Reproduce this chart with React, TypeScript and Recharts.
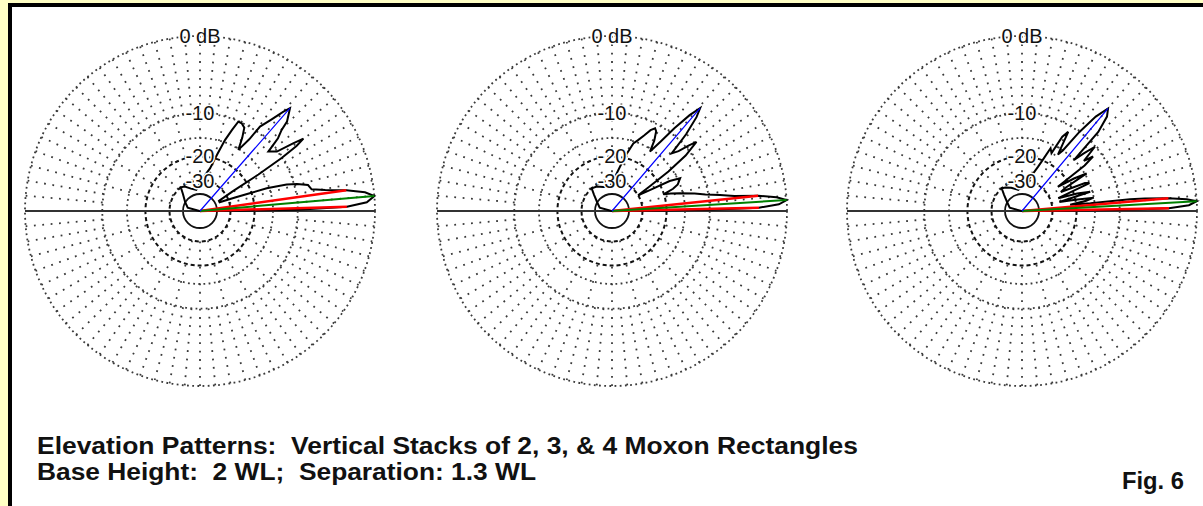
import React from "react";
import {
  RadarChart,
  Radar,
  PolarGrid,
  PolarAngleAxis,
  PolarRadiusAxis,
} from "recharts";

// Elevation patterns on an ARRL log scale (r = 0.89 ^ (-dB / 2)).
// Each plot: pattern angles (deg above horizon) and gains (dB).

// 2 Moxons
const stack2Angle = [
  0, 0.3, 0.7, 1.7, 3, 4.9, 6.5, 8.1, 9.5, 11, 13.5, 15.5, 17, 18.8, 19.5, 21, 24,
  28, 31, 32, 33, 34, 35, 36, 37.7, 41, 43, 44.8, 45.8, 48.8, 50, 52, 54.6, 55.5,
  57.9, 60, 62, 64.6, 66.8, 68.5, 70.6, 73, 76.8, 82, 90, 100, 112, 122, 129, 135,
  150, 165, 180,
];
const stack2Db = [
  -99, -25, -10, -3, -0.8, 0, -0.9, -2.9, -5.5, -7.4, -7.8, -9.5, -11.3, -15.6, -20,
  -26, -36, -36, -26, -16, -10, -7, -5.6, -7.2, -10.1, -11.3, -8.5, -7.2, -5.8, -4.25,
  -5.2, -7, -9, -12, -15.2, -12.5, -10.6, -10.1, -10.1, -12, -14.5, -18.5, -23.8, -27,
  -32, -36, -34, -31, -30, -34, -40, -45, -99,
];

// 3 Moxons
const stack3Angle = [
  0, 0.3, 0.7, 1.3, 2.3, 3.6, 4.8, 6, 7, 8.4, 10, 12, 14.6, 16.5, 18, 20, 22, 25.7,
  27.5, 29, 31, 33, 35, 37, 39.3, 40.5, 42, 44, 46, 48, 49.4, 51, 53, 55, 57.4, 59,
  61, 62.5, 64.5, 67, 70, 72.5, 76, 79.8, 85, 95, 110, 122, 131.8, 138, 150, 165, 180,
];
const stack3Db = [
  -99, -25, -10, -3, -0.8, 0, -1, -3, -6, -8.1, -10.5, -12.5, -15.7, -18, -20, -17,
  -15.5, -14.4, -17, -24, -30, -24, -16, -11, -8.1, -9.5, -11.5, -12.8, -8.5, -5.6,
  -4.4, -6, -9, -12.5, -15.6, -13, -11.2, -10.8, -11.5, -13, -14.5, -15.5, -19, -23.3,
  -28, -34, -33, -31, -30, -34, -40, -45, -99,
];

// 4 Moxons
const stack4Angle = [
  0, 0.3, 0.6, 1.1, 2, 3.2, 4.1, 5, 5.8, 6.2, 6.5, 7.5, 9, 10.5, 12, 13.5, 15.8, 17.5,
  19.5, 22.5, 24, 26, 28, 30.2, 32, 34, 36, 37.5, 39, 41.4, 43, 44.5, 46, 48, 50, 52,
  54, 56, 57.5, 59.7, 61.5, 63, 65.5, 68, 70, 75, 85, 100, 115, 125, 131.8, 138, 150,
  165, 180,
];
const stack4Db = [
  -99, -25, -10, -3, -0.8, 0, -1, -3, -6, -8.2, -16, -22, -17, -15, -20, -26, -15.5,
  -19, -26, -15, -16, -24, -22, -14.6, -18, -24, -14, -11.5, -13.5, -10.1, -12.5, -15,
  -8, -5.5, -4.6, -6.5, -10, -15, -16.5, -11.1, -12.5, -17, -16, -20, -22.5, -27, -32,
  -36, -33, -31, -30, -34, -40, -45, -99,
];

// marker lines (angles of points already in the patterns above)
const highLobeAngle = [48.8, 49.4, 50]; // blue
const maxGainAngle = [4.9, 3.6, 3.2]; // green + marker
const halfPowerLoAngle = [1.7, 1.3, 1.1]; // red
const halfPowerHiAngle = [8.1, 6, 5]; // red

// grid
const greyRingDb = [0, -10, -15];
const dashRingDb = [-20, -30];
const solidRingDb = [-40];
const labelDb = [0, -10, -20, -30];
const labelText = ["0 dB", "-10", "-20", "-30"];

const W = 1203;
const H = 506;
const R = 175;
const SIZE = 400;
const CY = 211;
const CENTERS = [200, 612, 1022];
const NO_MARGIN = { top: 0, right: 0, bottom: 0, left: 0 };
const FONT = "'Liberation Sans', Arial, Helvetica, sans-serif";
const DOT = "#3a3a3a";

const toV = (db: number) => Math.pow(0.89, -db / 2);
const rOf = (db: number) => R * toV(db);

const outerSpokes = Array.from({ length: 72 }, (_, i) => i * 5);
const innerSpokes = Array.from({ length: 24 }, (_, i) => i * 15);

function buildRows(angles: number[], dbs: number[], k: number) {
  return angles.map((a, i) => {
    const v = toV(dbs[i]);
    const at = (x: number) => (a === 0 ? 0 : a === x ? v : null);
    return {
      angle: a,
      pat: v,
      blue: at(highLobeAngle[k]),
      green: at(maxGainAngle[k]),
      redLo: at(halfPowerLoAngle[k]),
      redHi: at(halfPowerHiAngle[k]),
    };
  });
}

const plots = [
  buildRows(stack2Angle, stack2Db, 0),
  buildRows(stack3Angle, stack3Db, 1),
  buildRows(stack4Angle, stack4Db, 2),
];

const renderTick = (props: any) => {
  const { x, y, payload, index } = props;
  let i = index;
  if (payload && typeof payload.value === "number") {
    const j = labelDb.findIndex((d) => Math.abs(toV(d) - payload.value) < 1e-6);
    if (j >= 0) i = j;
  }
  return (
    <text
      key={`t-${i}`}
      x={x}
      y={y}
      textAnchor="middle"
      dominantBaseline="central"
      fontSize={20}
      fontFamily={FONT}
      fill="#111"
      stroke="#fff"
      strokeWidth={3}
      paintOrder="stroke"
    >
      {labelText[i]}
    </text>
  );
};

const renderMarker = (props: any) => {
  const { cx, cy, payload, index } = props;
  const big = payload && typeof payload.value === "number" ? payload.value > 0.5 : false;
  if (!big || !Number.isFinite(cx) || !Number.isFinite(cy)) return <g key={`m-${index}`} />;
  return (
    <rect
      key={`m-${index}`}
      x={cx - 3}
      y={cy - 3}
      width={6}
      height={6}
      fill="#ff00ff"
      stroke="#008000"
      strokeWidth={1.5}
    />
  );
};

function Plot({ cx, rows }: { cx: number; rows: any[] }) {
  const box: React.CSSProperties = {
    position: "absolute",
    left: cx - SIZE / 2,
    top: CY - SIZE / 2,
    width: SIZE,
    height: SIZE,
  };
  return (
    <>
      {/* 5 degree spokes between -10 dB and 0 dB */}
      <div style={box}>
        <RadarChart width={SIZE} height={SIZE} data={rows} margin={NO_MARGIN}
          innerRadius={rOf(-10)} outerRadius={R} startAngle={0} endAngle={360}>
          <PolarGrid gridType="circle" polarAngles={outerSpokes} polarRadius={[]}
            stroke={DOT} strokeWidth={1.8} strokeDasharray="1.8 6.6" />
        </RadarChart>
      </div>
      {/* 15 degree spokes between -30 dB and -10 dB */}
      <div style={box}>
        <RadarChart width={SIZE} height={SIZE} data={rows} margin={NO_MARGIN}
          innerRadius={rOf(-30)} outerRadius={rOf(-10)} startAngle={0} endAngle={360}>
          <PolarGrid gridType="circle" polarAngles={innerSpokes} polarRadius={[]}
            stroke={DOT} strokeWidth={1.8} strokeDasharray="1.8 6.6" />
        </RadarChart>
      </div>
      <div style={box}>
        <RadarChart width={SIZE} height={SIZE} data={rows} margin={NO_MARGIN}
          outerRadius={R} startAngle={0} endAngle={360}>
          <PolarGrid gridType="circle" polarAngles={[]} polarRadius={greyRingDb.map(rOf)}
            stroke={DOT} strokeWidth={1.8} strokeDasharray="1.8 3.4" />
          <PolarGrid gridType="circle" polarAngles={[]} polarRadius={dashRingDb.map(rOf)}
            stroke="#111" strokeWidth={2} strokeDasharray="4 3" />
          <PolarGrid gridType="circle" polarAngles={[]} polarRadius={solidRingDb.map(rOf)}
            stroke="#111" strokeWidth={1.8} />
          <PolarGrid gridType="circle" polarAngles={[0, 180]} polarRadius={[]}
            stroke="#333" strokeWidth={2} />
          <PolarAngleAxis dataKey="angle" type="number" domain={[0, 360]}
            tick={false} axisLine={false} tickLine={false} />
          <PolarRadiusAxis angle={90} type="number" domain={[0, 1]}
            ticks={labelDb.map(toV)} tick={renderTick} axisLine={false} tickLine={false} />
          <Radar dataKey="pat" stroke="#000" strokeWidth={2} fill="none" fillOpacity={0}
            dot={false} isAnimationActive={false} />
          <Radar dataKey="redLo" stroke="#ff0000" strokeWidth={2.5} fill="none" fillOpacity={0}
            dot={false} connectNulls isAnimationActive={false} />
          <Radar dataKey="redHi" stroke="#ff0000" strokeWidth={2.5} fill="none" fillOpacity={0}
            dot={false} connectNulls isAnimationActive={false} />
          <Radar dataKey="green" stroke="#008000" strokeWidth={2} fill="none" fillOpacity={0}
            dot={renderMarker} connectNulls isAnimationActive={false} />
          <Radar dataKey="blue" stroke="#0000ff" strokeWidth={1.2} fill="none" fillOpacity={0}
            dot={false} connectNulls isAnimationActive={false} />
        </RadarChart>
      </div>
    </>
  );
}

export default function App() {
  return (
    <div style={{ position: "absolute", left: 0, top: 0, width: W, height: H,
      background: "#ffffc4", overflow: "hidden" }}>
      <div style={{ position: "absolute", left: 8, top: 3, width: W + 100, height: H + 100,
        background: "#fff", borderLeft: "4px solid #000", borderTop: "4px solid #000",
        boxSizing: "border-box" }} />
      {plots.map((rows, k) => (
        <Plot key={k} cx={CENTERS[k]} rows={rows} />
      ))}
      <svg width={W} height={H} style={{ position: "absolute", left: 0, top: 0 }}>
        <g fontFamily={FONT} fontWeight="bold" fontSize={23} fill="#111">
          <text x={37} y={454} xmlSpace="preserve" textLength={821} lengthAdjust="spacingAndGlyphs">
            {"Elevation Patterns:  Vertical Stacks of 2, 3, & 4 Moxon Rectangles"}
          </text>
          <text x={37} y={480} xmlSpace="preserve" textLength={499} lengthAdjust="spacingAndGlyphs">
            {"Base Height:  2 WL;  Separation: 1.3 WL"}
          </text>
          <text x={1122} y={489} textLength={62} lengthAdjust="spacingAndGlyphs">
            {"Fig. 6"}
          </text>
        </g>
      </svg>
    </div>
  );
}
